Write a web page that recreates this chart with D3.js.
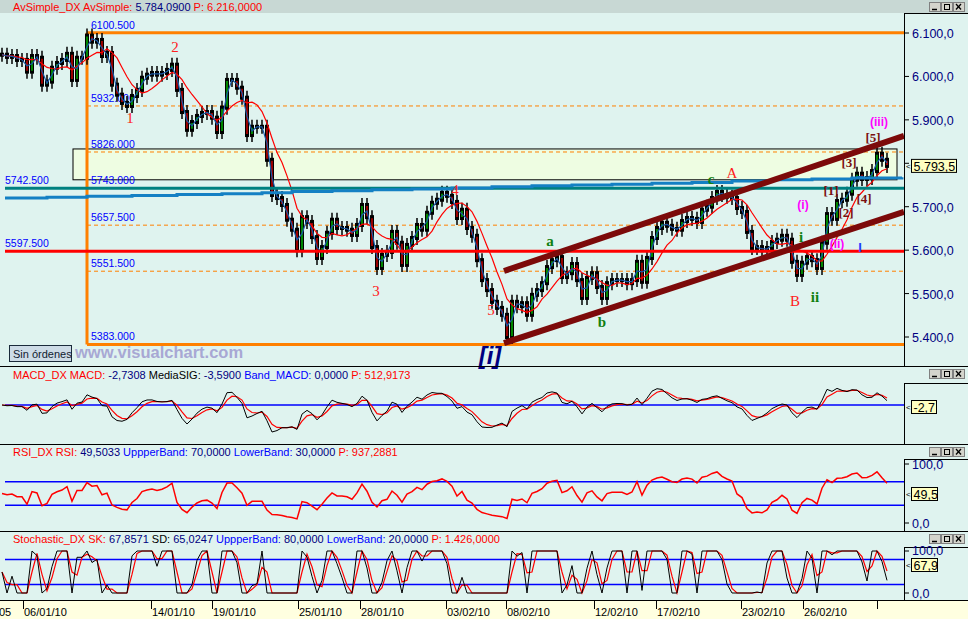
<!DOCTYPE html>
<html><head><meta charset="utf-8">
<script src="https://cdn.jsdelivr.net/npm/d3@7"></script>
<style>
body{margin:0;background:#dff3ef;}
svg{display:block;font-family:"Liberation Sans",Arial,sans-serif;}
</style>
</head><body>
<svg id="c" width="968" height="619"></svg>
<script>
// ---------------- DATA ----------------
const closes = [
6050,6045,6047,6038,6038,6011,6047,6043,5981,5988,
6020,6031,6038,6052,5992,6043,6043,6094,6080,6084,
6047,6054,5981,5958,5939,5932,5955,5969,5997,6004,
6008,6004,6008,6015,6027,5969,5918,5877,5895,5909,
5916,5918,5905,5872,5928,5992,5992,5974,5951,5865,
5884,5884,5884,5808,5727,5720,5704,5670,5647,5600,
5676,5665,5630,5582,5607,5640,5670,5651,5651,5647,
5635,5658,5704,5676,5607,5559,5589,5596,5642,5617,
5566,5612,5628,5658,5647,5686,5709,5716,5732,5725,
5711,5674,5693,5651,5633,5577,5531,5508,5481,5467,
5451,5400,5481,5471,5478,5451,5497,5508,5524,5561,
5577,5584,5538,5547,5568,5531,5490,5536,5547,5515,
5490,5524,5531,5531,5531,5524,5531,5573,5527,5582,
5628,5651,5663,5656,5649,5647,5667,5674,5672,5665,
5693,5700,5720,5734,5727,5723,5720,5697,5688,5642,
5605,5607,5600,5605,5619,5624,5633,5624,5573,5543,
5571,5584,5577,5559,5617,5683,5672,5713,5716,5730,
5762,5776,5764,5766,5782,5822,5808,5794
];
const longAvgIdx = [0,9,17,26,35,44,52,58,66,74,82,90,98,106,114,122,130,138,146,154,162,170,180];
const longAvgVal = [5720,5722,5724,5726,5728,5730,5732,5735,5737,5739,5741,5743,5746,5748,5750,5752,5754,5756,5759,5762,5764,5766,5768];

const fibLevels = [6100.5, 5932, 5826, 5743, 5657.5, 5551.5, 5383];
const fibLabels = ["6100.500","5932.000","5826.000","5743.000","5657.500","5551.500","5383.000"];
const fibStartIdx = 17;
const supportLevels = [5742.5, 5597.5];
const supportLabels = ["5742.500","5597.500"];
const zoneIdx = [14.2, 179];
const zonePrice = [5762, 5833];
const channelIdx = [100.4, 180.4];
const channelUpper = [5552, 5863];
const channelLower = [5386, 5688];

const priceTicks = [5400,5500,5600,5700,5800,5900,6000,6100];
const priceTickLabels = ["5.400,0","5.500,0","5.600,0","5.700,0","5.800,0","5.900,0","6.000,0","6.100,0"];
const dateLabels = ["06/01/10","14/01/10","19/01/10","25/01/10","28/01/10","03/02/10","08/02/10","12/02/10","17/02/10","23/02/10","26/02/10",""];
const dateIdx = [4.2,29.8,42,59.2,71.6,88.8,100.8,118.4,130.8,147.8,160.2,175];

const annText  = ["1","2","3","4","5","A","B","a","b","c","i","ii","(i)","(ii)","(iii)","[1]","[2]","[3]","[4]","[5]","[i]","I"];
const annIdx   = [25.6,34.6,74.8,90.6,97.8,146,158.6,109.6,120,141.8,159.8,162.6,160.2,167,175.4,165.8,168.8,169.4,172.4,174.2,97.6,171.6];
const annPrice = [5893,6057,5494,5727,5451,5766,5471,5610,5423,5752,5619,5481,5695,5605,5885,5727,5676,5792,5709,5850,5338,5596];
const annGroup = ["r","r","r","r","r","r","r","g","g","g","g","g","m","m","m","k","k","k","k","k","n","b"];

const rsiBands = [70, 30];
const stochBands = [80, 20];
const lastPrice = "5.793,5", lastMacd = "-2,7", lastRsi = "49,5", lastStoch = "67,9";

// ---------------- HELPERS ----------------
function sma(a, n){ return a.map((v,i)=>{ const s=a.slice(Math.max(0,i-n+1), i+1); return d3.mean(s); }); }
function ema(a, n){ const k=2/(n+1); const out=[]; a.forEach((v,i)=>{ out.push(i===0? v : v*k + out[i-1]*(1-k)); }); return out; }
function rsi(a, n){
  // Wilder RSI, averages seeded with the mean absolute change
  const diffs = a.slice(1).map((v,i)=>v-a[i]);
  const seed = d3.mean(diffs.map(Math.abs))/2;
  let ag=seed, al=seed; const out=[50];
  diffs.forEach(d=>{
    ag=(ag*(n-1)+Math.max(d,0))/n; al=(al*(n-1)+Math.max(-d,0))/n;
    out.push(al===0?100:100-100/(1+ag/al));
  });
  return out;
}
function stochK(a, n){ return a.map((v,i)=>{ const s=a.slice(Math.max(0,i-n+1), i+1); const lo=d3.min(s), hi=d3.max(s); return hi===lo?50:100*(v-lo)/(hi-lo); }); }

const svg = d3.select("#c");
const W = 968, plotR = 904;
const BG = "#dff3ef";

const x = d3.scaleLinear().domain([0, 177]).range([2, 887]);
const yP = d3.scaleLinear().domain([5400, 6100]).range([337, 33]);

// background
svg.append("rect").attr("width",W).attr("height",619).attr("fill",BG);
svg.append("rect").attr("x",0).attr("y",0).attr("width",W).attr("height",13).attr("fill","#c8d8d4");

// ---------- MAIN PANEL ----------
svg.append("clipPath").attr("id","mclip").append("rect").attr("x",0).attr("y",14).attr("width",plotR).attr("height",352);
const mp = svg.append("g").attr("clip-path","url(#mclip)");

// zone rect
mp.append("rect").attr("x",x(zoneIdx[0])).attr("y",yP(zonePrice[1]))
  .attr("width",x(zoneIdx[1])-x(zoneIdx[0])).attr("height",yP(zonePrice[0])-yP(zonePrice[1]))
  .attr("fill","#eefde2").attr("stroke","#000").attr("stroke-width",1);

// fib lines
const fx = x(fibStartIdx);
fibLevels.forEach((lv,i)=>{
  const solid = (i===0 || i===fibLevels.length-1);
  mp.append("line").attr("x1",fx).attr("x2",plotR).attr("y1",yP(lv)).attr("y2",yP(lv))
    .attr("stroke","#ff8000").attr("stroke-width",solid?3:1).attr("stroke-dasharray",solid?null:"4,3");
  mp.append("text").attr("x",fx+4).attr("y",yP(lv)-4).attr("font-size",10.5).attr("fill","#0000ff").text(fibLabels[i]);
});
mp.append("line").attr("x1",fx).attr("x2",fx).attr("y1",yP(fibLevels[0])).attr("y2",yP(fibLevels[fibLevels.length-1]))
  .attr("stroke","#ff8000").attr("stroke-width",3);

// support labels
supportLevels.forEach((lv,i)=>{
  mp.append("text").attr("x",5).attr("y",yP(lv)-4).attr("font-size",10.5).attr("fill","#0000ff").text(supportLabels[i]);
});

// candles
const cg = mp.append("g");
closes.forEach((c,i)=>{
  const o = i>0 ? closes[i-1] : c;
  const hi = yP(Math.max(o,c)), lo = yP(Math.min(o,c));
  cg.append("line").attr("x1",x(i)).attr("x2",x(i)).attr("y1",hi-7).attr("y2",lo+7).attr("stroke","#000").attr("stroke-width",1.5);
  cg.append("rect").attr("x",x(i)-2).attr("y",hi-2).attr("width",4).attr("height",lo-hi+4).attr("fill","#000");
  if (Math.abs(hi-lo)>=2){
    cg.append("line").attr("x1",x(i)).attr("x2",x(i)).attr("y1",hi+1).attr("y2",lo-1)
      .attr("stroke", c>o ? "#00e000" : "#ff0000").attr("stroke-width",1.2);
  }
});

// moving averages
const fast = sma(closes,2), slow = sma(closes,7);
const lineP = d3.line().x((d,i)=>x(i)).y(d=>yP(d));
mp.append("path").attr("d",lineP(slow)).attr("fill","none").attr("stroke","#ff0000").attr("stroke-width",1.2);
mp.append("path").attr("d",lineP(fast)).attr("fill","none").attr("stroke","#1a5aa8").attr("stroke-width",1.2);

// horizontal support lines
mp.append("line").attr("x1",5).attr("x2",plotR).attr("y1",yP(supportLevels[0])).attr("y2",yP(supportLevels[0])).attr("stroke","#008080").attr("stroke-width",3);
mp.append("line").attr("x1",5).attr("x2",plotR).attr("y1",yP(supportLevels[1])).attr("y2",yP(supportLevels[1])).attr("stroke","#ff0000").attr("stroke-width",3);
// long average step line
const longPts = longAvgIdx.map((d,i)=>[d, longAvgVal[i]]);
mp.append("path").attr("d", d3.line().curve(d3.curveStepAfter).x(d=>Math.max(5,x(d[0]))).y(d=>yP(d[1]))(longPts))
  .attr("fill","none").attr("stroke","#1480c4").attr("stroke-width",3);

// channel
[channelUpper, channelLower].forEach(ch=>{
  mp.append("line").attr("x1",x(channelIdx[0])).attr("y1",yP(ch[0])).attr("x2",x(channelIdx[1])).attr("y2",yP(ch[1]))
    .attr("stroke","#7c0a0a").attr("stroke-width",6);
});

// annotations
const annStyle = {
  r:{fill:"#ff2020", font:"'Liberation Serif',serif", size:15, weight:"normal", style:"normal"},
  g:{fill:"#108010", font:"'Liberation Serif',serif", size:15, weight:"bold", style:"normal"},
  m:{fill:"#ff00ff", font:"'Liberation Sans',sans-serif", size:12, weight:"bold", style:"normal"},
  k:{fill:"#7a1010", font:"'Liberation Serif',serif", size:13, weight:"bold", style:"normal"},
  n:{fill:"#000080", font:"'Liberation Sans',sans-serif", size:24, weight:"bold", style:"italic"},
  b:{fill:"#2040ff", font:"'Liberation Sans',sans-serif", size:13, weight:"bold", style:"normal"}
};
annText.forEach((t,i)=>{
  const s = annStyle[annGroup[i]];
  svg.append("text").attr("x",x(annIdx[i])).attr("y",yP(annPrice[i])).attr("text-anchor","middle")
    .attr("font-family",s.font).attr("font-size",s.size).attr("font-weight",s.weight).attr("font-style",s.style)
    .attr("fill",s.fill).text(t);
});

// Sin ordenes & watermark
svg.append("rect").attr("x",9.5).attr("y",345.5).attr("width",62).attr("height",16).attr("fill","#cddbe6").attr("stroke","#1a2a3a");
svg.append("text").attr("x",13).attr("y",358).attr("font-size",11).attr("fill","#102030").text("Sin órdenes");
svg.append("text").attr("x",75).attr("y",358).attr("font-size",16.5).attr("font-weight","bold").attr("fill","#a8a8d4").text("www.visualchart.com");

// header
const hdr = (y, parts) => {
  const t = svg.append("text").attr("x",13).attr("y",y).attr("font-size",11);
  parts.forEach(p=> t.append("tspan").attr("fill",p[1]).text(p[0]));
};
const RED="#ff0000", NAVY="#000080", BLUE="#0000ff", BLK="#000000";
hdr(11, [["AvSimple_DX AvSimple: ",RED],["5.784,0900 ",NAVY],[" P: 6.216,0000",RED]]);

function axisBox(y0, y1){
  svg.append("rect").attr("x",plotR+0.5).attr("y",y0+0.5).attr("width",W-plotR+2).attr("height",y1-y0).attr("fill",BG).attr("stroke","#000");
}
function buttons(y){
  [929,941,953].forEach((bx,i)=>{
    svg.append("rect").attr("x",bx+0.5).attr("y",y+0.5).attr("width",11).attr("height",9).attr("fill","#d4d4cc").attr("stroke","#808080");
    if(i===0) svg.append("line").attr("x1",bx+3).attr("x2",bx+8).attr("y1",y+7.5).attr("y2",y+7.5).attr("stroke","#000").attr("stroke-width",1.5);
    if(i===1) svg.append("rect").attr("x",bx+3.5).attr("y",y+2.5).attr("width",5).attr("height",5).attr("fill","none").attr("stroke","#000");
    if(i===2){
      svg.append("line").attr("x1",bx+3).attr("x2",bx+8).attr("y1",y+2).attr("y2",y+7.5).attr("stroke","#000").attr("stroke-width",1.3);
      svg.append("line").attr("x1",bx+8).attr("x2",bx+3).attr("y1",y+2).attr("y2",y+7.5).attr("stroke","#000").attr("stroke-width",1.3);
    }
  });
}
function valBox(y, txt, w){
  svg.append("text").attr("x",906).attr("y",y+3).attr("font-size",8).attr("fill","#000").text("<");
  svg.append("rect").attr("x",911.5).attr("y",y-6.5).attr("width",w).attr("height",13).attr("fill","#ffffc0").attr("stroke","#000");
  svg.append("text").attr("x",913.5).attr("y",y+5).attr("font-size",12.5).attr("fill","#000").text(txt);
}
// right axis main
axisBox(13, 366);
buttons(2);
const lastY = yP(closes[closes.length-1]);
priceTicks.forEach((p,i)=>{
  svg.append("line").attr("x1",plotR).attr("x2",plotR+5).attr("y1",yP(p)).attr("y2",yP(p)).attr("stroke","#000");
  if (Math.abs(yP(p)-lastY) > 14)
    svg.append("text").attr("x",plotR+8).attr("y",yP(p)+5).attr("font-size",12.5).attr("fill",NAVY).text(priceTickLabels[i]);
});
valBox(lastY, lastPrice, 45);

// separators
[366.5, 444.5, 531.5, 600.5].forEach(y=> svg.append("line").attr("x1",0).attr("x2",W).attr("y1",y).attr("y2",y).attr("stroke","#000"));

// ---------- MACD ----------
hdr(379, [["MACD_DX MACD: ",RED],["-2,7308 ",NAVY],[" MediaSIG: ",BLK],["-3,5900 ",NAVY],[" Band_MACD: ",BLUE],["0,0000 ",NAVY],[" P: 512,9173",RED]]);
axisBox(383, 444); buttons(369);
const e1 = ema(closes,2), e2 = ema(closes,6);
const macd = e1.map((v,i)=>v-e2[i]);
const sig = ema(macd,3);
const mMax = d3.max(macd.map(Math.abs));
const yM = d3.scaleLinear().domain([-mMax, mMax]).range([432, 378]);
svg.append("line").attr("x1",5).attr("x2",plotR).attr("y1",yM(0)).attr("y2",yM(0)).attr("stroke","#0000ff").attr("stroke-width",1.5);
const lineM = d3.line().x((d,i)=>x(i)).y(d=>yM(d));
svg.append("path").attr("d",lineM(sig)).attr("fill","none").attr("stroke","#ff0000").attr("stroke-width",1.2);
svg.append("path").attr("d",lineM(macd)).attr("fill","none").attr("stroke","#000").attr("stroke-width",1);
valBox(407, lastMacd, 25);

// ---------- RSI ----------
hdr(456, [["RSI_DX RSI: ",RED],["49,5033 ",NAVY],[" UppperBand: ",BLUE],["70,0000 ",NAVY],[" LowerBand: ",BLUE],["30,0000 ",NAVY],[" P: 937,2881",RED]]);
axisBox(459, 531); buttons(447);
const yR = d3.scaleLinear().domain([0,100]).range([523, 464]);
rsiBands.forEach(b=> svg.append("line").attr("x1",5).attr("x2",plotR).attr("y1",yR(b)).attr("y2",yR(b)).attr("stroke","#0000ff").attr("stroke-width",1.5));
const rsiV = rsi(closes, 6);
svg.append("path").attr("d", d3.line().x((d,i)=>x(i)).y(d=>yR(d))(rsiV)).attr("fill","none").attr("stroke","#ff0000").attr("stroke-width",1.5);
[[100,"100,0"],[0,"0,0"]].forEach(t=>{
  svg.append("line").attr("x1",plotR).attr("x2",plotR+5).attr("y1",yR(t[0])).attr("y2",yR(t[0])).attr("stroke","#000");
  svg.append("text").attr("x",plotR+8).attr("y",yR(t[0])+5).attr("font-size",12.5).attr("fill",NAVY).text(t[1]);
});
valBox(494, lastRsi, 26);

// ---------- STOCHASTIC ----------
hdr(543, [["Stochastic_DX SK: ",RED],["67,8571 ",NAVY],[" SD: ",BLK],["65,0247 ",NAVY],[" UppperBand: ",BLUE],["80,0000 ",NAVY],[" LowerBand: ",BLUE],["20,0000 ",NAVY],[" P: 1.426,0000",RED]]);
axisBox(547, 600); buttons(534);
const yS = d3.scaleLinear().domain([0,100]).range([593, 551]);
stochBands.forEach(b=> svg.append("line").attr("x1",5).attr("x2",plotR).attr("y1",yS(b)).attr("y2",yS(b)).attr("stroke","#0000ff").attr("stroke-width",1.5));
const sk = stochK(closes, 4), sd = sma(sk, 2);
const lineS = d3.line().x((d,i)=>x(i)).y(d=>yS(d));
svg.append("path").attr("d",lineS(sd)).attr("fill","none").attr("stroke","#ff0000").attr("stroke-width",1.2);
svg.append("path").attr("d",lineS(sk)).attr("fill","none").attr("stroke","#000").attr("stroke-width",1);
[[100,"100,0",4],[0,"0,0",5]].forEach(t=>{
  svg.append("line").attr("x1",plotR).attr("x2",plotR+5).attr("y1",yS(t[0])).attr("y2",yS(t[0])).attr("stroke","#000");
  svg.append("text").attr("x",plotR+8).attr("y",yS(t[0])+t[2]).attr("font-size",12.5).attr("fill",NAVY).text(t[1]);
});
valBox(565, lastStoch, 26);

// ---------- DATE AXIS ----------
svg.append("rect").attr("x",0).attr("y",601).attr("width",W).attr("height",18).attr("fill","#ffffe0");
svg.append("text").attr("x",-1).attr("y",616).attr("font-size",11).attr("fill","#000").text("05");
dateIdx.forEach((d,i)=>{
  svg.append("line").attr("x1",Math.round(x(d))+0.5).attr("x2",Math.round(x(d))+0.5).attr("y1",601).attr("y2",609).attr("stroke","#000");
  svg.append("text").attr("x",x(d)+1).attr("y",616).attr("font-size",11).attr("fill","#000").text(dateLabels[i]);
});
</script>
</body></html>
